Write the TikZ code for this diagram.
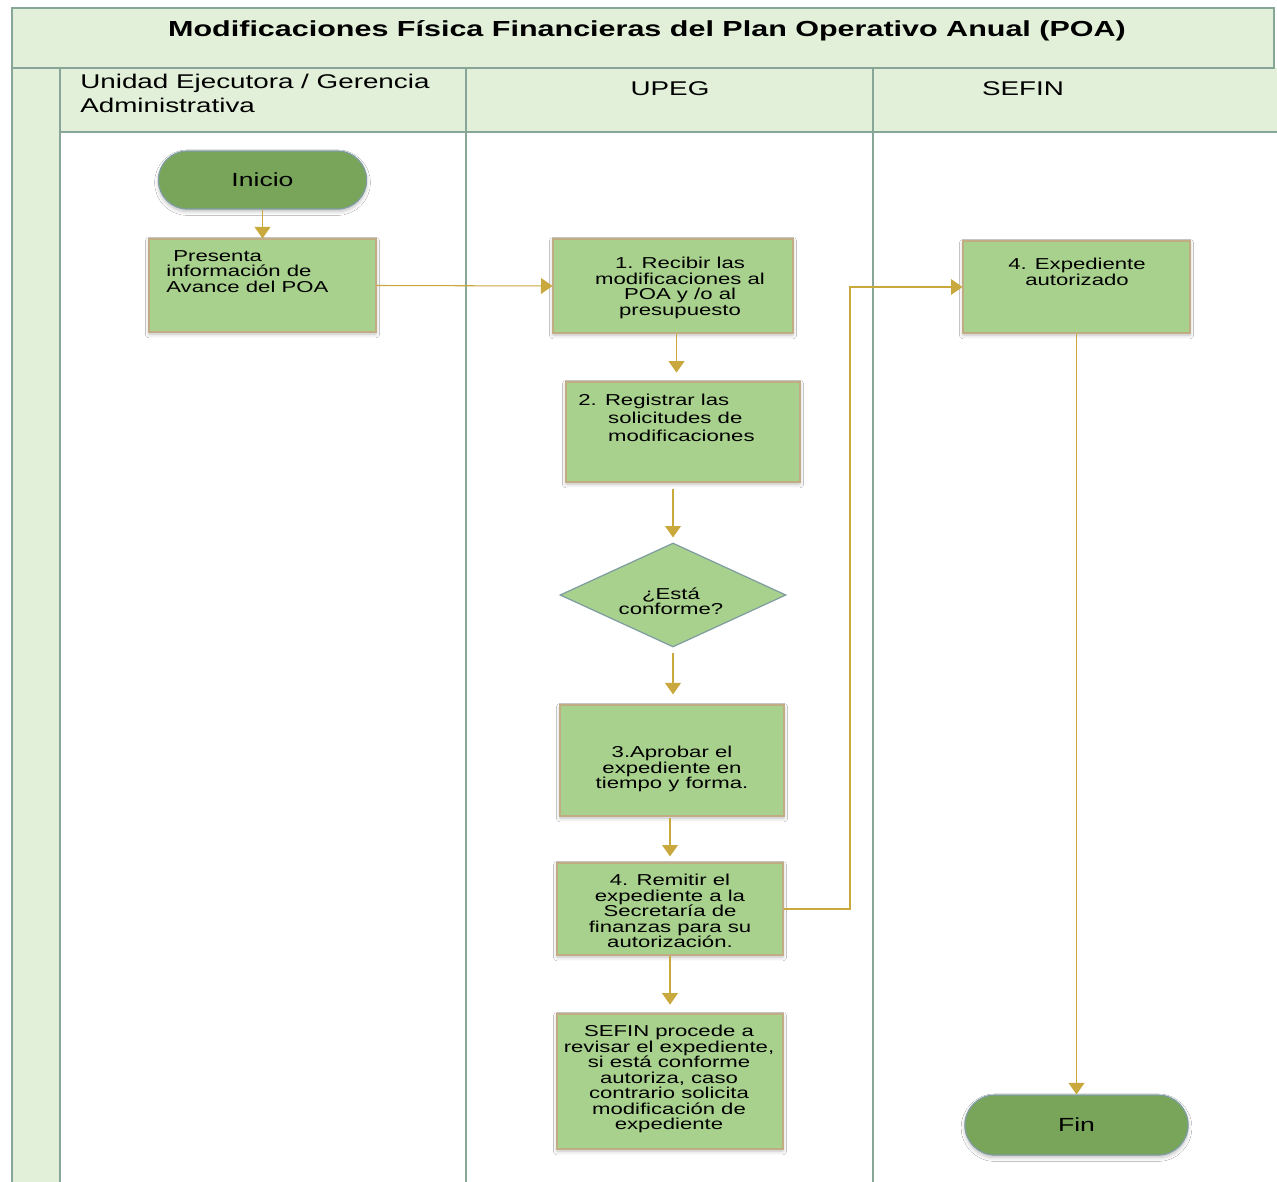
\documentclass[tikz,border=0pt]{standalone}
\usepackage{fontspec}
\setmainfont{Liberation Sans}[FakeStretch=1.4]
\usetikzlibrary{arrows.meta,shapes.geometric,shapes.misc,shadows.blur}

\definecolor{headfill}{HTML}{E2EFD9}
\definecolor{laneline}{HTML}{88A698}
\definecolor{boxfill}{HTML}{A9D18E}
\definecolor{boxline}{HTML}{C2AC84}
\definecolor{termfill}{HTML}{78A55A}
\definecolor{termline}{HTML}{7F9CA0}
\definecolor{flowgold}{HTML}{C9A83E}

\tikzset{
    lane/.style={draw=laneline,line width=1.5pt},
    stepbox/.style={rectangle,draw=boxline,fill=boxfill,line width=0.7pt,
        blur shadow={shadow xshift=0pt,shadow yshift=-1.2pt,shadow blur steps=4,shadow opacity=25}},
    terminal/.style={rounded rectangle,draw=termline,fill=termfill,line width=0.7pt,
        minimum width=4.4cm,minimum height=1.16cm,font=\fontsize{10.8}{12}\selectfont,
        blur shadow={shadow xshift=0pt,shadow yshift=-1.5pt,shadow blur steps=4,shadow opacity=25}},
    decision/.style={diamond,draw=termline,fill=boxfill,line width=0.7pt,inner sep=0pt},
    txt/.style={inner sep=0pt,align=center,font=\fontsize{9}{8.8}\selectfont},
    headtxt/.style={inner sep=0pt,font=\fontsize{11.3}{13.6}\selectfont},
    flow/.style={draw=flowgold,line width=0.6pt,-{Triangle[width=9pt,length=6.5pt]}}
}

\begin{document}
\begin{tikzpicture}[x=0.02cm,y=-0.02cm]
    \useasboundingbox (0,0) rectangle (1277,1182);
    \fill[white] (0,0) rectangle (1277,1182);
    \fill[headfill] (12,68) rectangle (60,1182);
    \fill[headfill] (60,68) rectangle (1277,132);
    \draw[lane,fill=headfill] (12,8) rectangle (1274,68);
    \node[inner sep=0pt,font=\bfseries\fontsize{12.4}{14}\selectfont] (title) at (647,31)
        {Modificaciones Física Financieras del Plan Operativo Anual (POA)};
    \foreach \lx in {12,60,466,873} {
        \draw[lane] (\lx,68) -- (\lx,1182);
    }
    \draw[lane] (60,132) -- (1277,132);
    \node[headtxt,anchor=north west,align=left] (h1) at (80,74) {Unidad Ejecutora / Gerencia\\Administrativa};
    \node[headtxt] (h2) at (670,89) {UPEG};
    \node[headtxt] (h3) at (1023,89) {SEFIN};

    \node[terminal] (ini) at (262.5,180) {Inicio};
    \node[stepbox,minimum width=4.54cm,minimum height=1.86cm] (pres) at (262.5,285.5) {};
    \node[txt,anchor=north west,align=left] (pres t) at (166,250)
        {\hspace{4pt}Presenta\\información de\\Avance del POA};

    \node[stepbox,minimum width=4.8cm,minimum height=1.88cm] (rec) at (673,286) {};
    \node[txt,anchor=north] (rec t) at (680,257)
        {1. Recibir las\\modificaciones al\\POA y /o al\\presupuesto};

    \node[stepbox,minimum width=4.68cm,minimum height=2cm] (reg) at (683,432) {};
    \node[txt,anchor=north west,align=left,font=\fontsize{9}{10.2}\selectfont] (reg t) at (578,394)
        {2. Registrar las\\\hspace{17pt}solicitudes de\\\hspace{17pt}modificaciones};

    \node[decision,minimum width=4.52cm,minimum height=2.08cm] (dia) at (673,595) {};
    \node[txt] (dia t) at (671,601) {¿Está\\conforme?};

    \node[stepbox,minimum width=4.48cm,minimum height=2.22cm] (apr) at (672,760.5) {};
    \node[txt,anchor=north] (apr t) at (672,746)
        {3.Aprobar el\\expediente en\\tiempo y forma.};

    \node[stepbox,minimum width=4.52cm,minimum height=1.84cm] (rem) at (670,909) {};
    \node[txt,anchor=north] (rem t) at (670,874)
        {4. Remitir el\\expediente a la\\Secretaría de\\finanzas para su\\autorización.};

    \node[stepbox,minimum width=4.52cm,minimum height=2.7cm] (sefp) at (670,1081.5) {};
    \node[txt,anchor=north] (sefp t) at (669,1025)
        {SEFIN procede a\\revisar el expediente,\\si está conforme\\autoriza, caso\\contrario solicita\\modificación de\\expediente};

    \node[stepbox,minimum width=4.54cm,minimum height=1.84cm] (exp) at (1076.5,287) {};
    \node[txt,anchor=north] (exp t) at (1077,258) {4. Expediente\\autorizado};

    \node[terminal,minimum width=4.7cm,minimum height=1.2cm] (fin) at (1076.5,1125) {Fin};

    \coordinate (turn) at (850,0);
    \draw[flow] (ini.south) -- (pres.north);
    \draw[flow] (pres.east) -- (rec.west);
    \draw[flow,shorten >=5pt] ([xshift=2pt]rec.south) -- ([xshift=2pt]rec.south |- reg.north);
    \draw[flow,shorten <=3.4pt,shorten >=2.8pt] (dia.north |- reg.south) -- (dia.north);
    \draw[flow,shorten <=2.8pt,shorten >=5.7pt] (dia.south) -- (dia.south |- apr.north);
    \draw[flow,shorten <=1pt,shorten >=3.4pt] (rem.north |- apr.south) -- (rem.north);
    \draw[flow,shorten >=5pt] (rem.south) -- (rem.south |- sefp.north);
    \draw[flow] (rem.east) -- (rem.east -| turn) |- (exp.west);
    \draw[flow] (exp.south) -- (fin.north);
\end{tikzpicture}
\end{document}
